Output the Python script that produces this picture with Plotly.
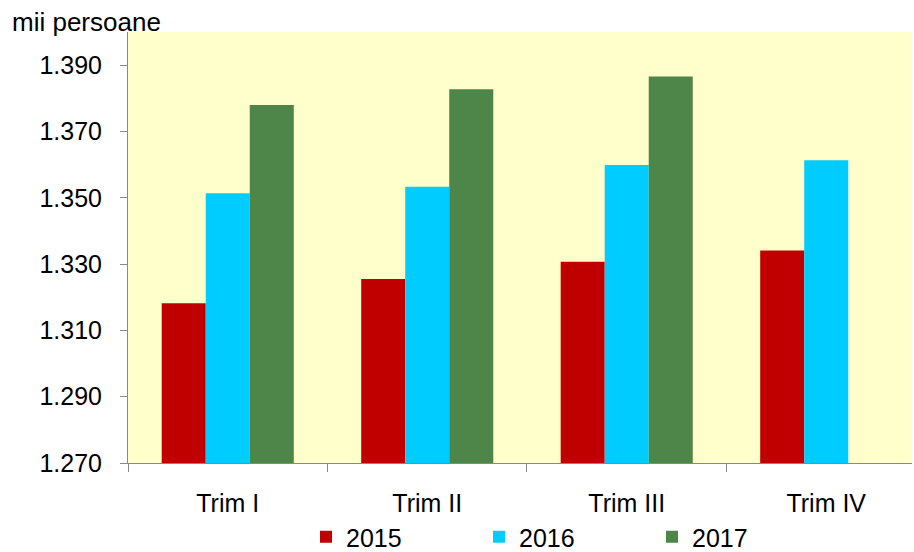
import plotly.graph_objects as go

categories = ["Trim I", "Trim II", "Trim III", "Trim IV"]
years = ["2015", "2016", "2017"]
v2015 = [1318.2, 1325.5, 1330.7, 1334.1]
v2016 = [1351.4, 1353.3, 1359.9, 1361.3]
v2017 = [1378.0, 1382.7, 1386.6, None]
colors = ["#C00000", "#00CCFF", "#4E8549"]

W, H = 914, 552
L, R, T, B = 128, 2, 32, 89

fig = go.Figure()
for name, vals, col in zip(years, [v2015, v2016, v2017], colors):
    fig.add_trace(go.Bar(x=categories, y=vals, name=name,
                         marker=dict(color=col, line=dict(width=0))))

font = "Liberation Sans, Arial, sans-serif"
fig.update_layout(
    width=W, height=H,
    margin=dict(l=L, r=R, t=T, b=B, pad=0, autoexpand=False),
    paper_bgcolor="white", plot_bgcolor="#FFFFCC",
    separators=",.",
    barmode="group", bargap=0.338, bargroupgap=0,
    font=dict(family=font, size=25, color="black"),
    xaxis=dict(range=[-0.5, 3.43], tickson="boundaries", ticks="outside",
               ticklen=8, tickcolor="#888", showline=True, linecolor="#888",
               linewidth=1, showgrid=False, ticklabelstandoff=18,
               tickfont=dict(size=25), automargin=False),
    yaxis=dict(range=[1270, 1400], tick0=1270, dtick=20, tickformat=",d",
               ticks="outside", ticklen=7, tickcolor="#888", showline=True,
               linecolor="#888", linewidth=1, showgrid=False, zeroline=False,
               ticklabelstandoff=13, tickfont=dict(size=25), automargin=False),
    legend=dict(orientation="h", xref="container", yref="container",
                x=306 / W, xanchor="left", y=(H - 537) / H, yanchor="middle",
                entrywidth=128, entrywidthmode="pixels",
                font=dict(size=25), bgcolor="rgba(0,0,0,0)",
                itemclick=False, tracegroupgap=0),
    showlegend=True,
)
fig.add_annotation(text="mii persoane", xref="paper", yref="paper",
                   x=(10 - L) / (W - L - R), xanchor="left",
                   y=1 + (T - 22) / (H - T - B), yanchor="middle",
                   showarrow=False, font=dict(size=26, color="black"))

fig.write_html("out.html",
               config={"displayModeBar": False},
               post_script="document.body.style.margin='0';document.body.style.overflow='hidden';")
